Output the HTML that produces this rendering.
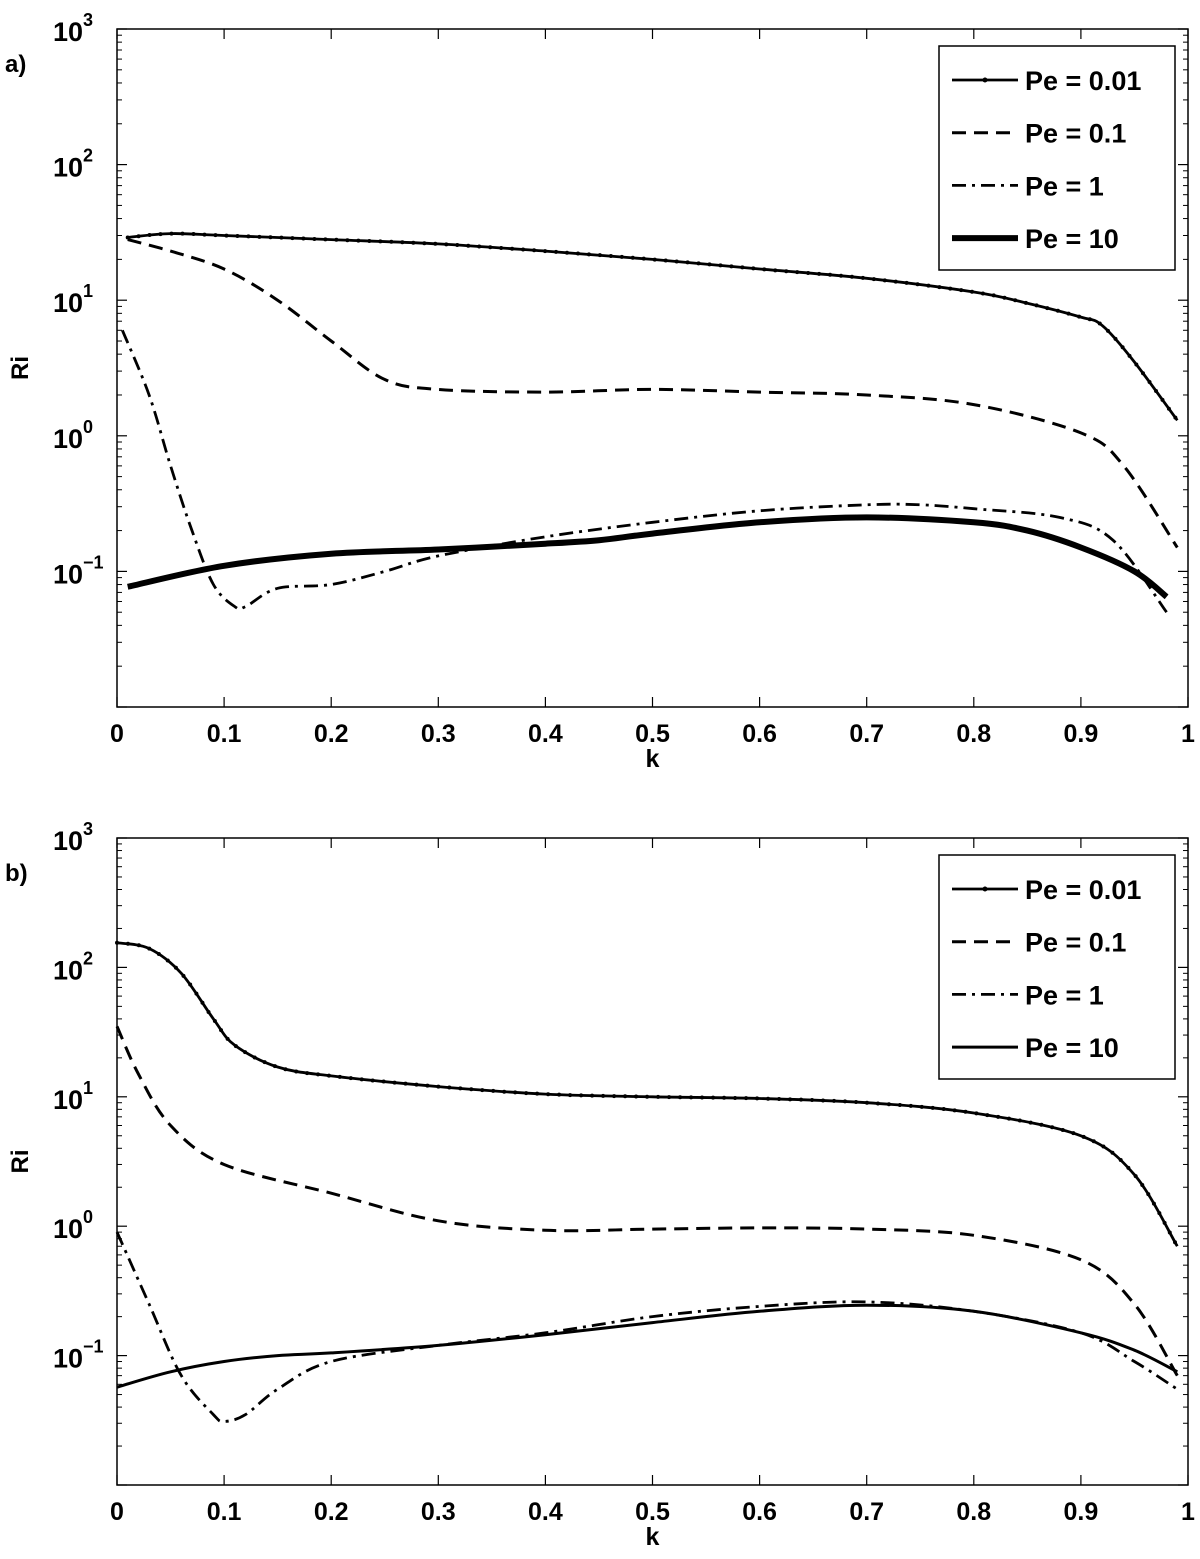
<!DOCTYPE html>
<html><head><meta charset="utf-8"><style>
body{margin:0;background:#fff}
svg{display:block;font-family:"Liberation Sans",Arial,sans-serif;font-weight:bold}
</style></head><body>
<svg id="fig" width="1200" height="1559" viewBox="0 0 1200 1559" xmlns="http://www.w3.org/2000/svg"></svg>
<script>
const ticksX=[0,0.1,0.2,0.3,0.4,0.5,0.6,0.7,0.8,0.9,1];
const tickLabelsX=["0","0.1","0.2","0.3","0.4","0.5","0.6","0.7","0.8","0.9","1"];
const decades=[3,2,1,0,-1];
const seriesNames=["Pe = 0.01","Pe = 0.1","Pe = 1","Pe = 10"];
// panel a
const aK001=[0.01,0.05,0.1,0.2,0.3,0.4,0.5,0.6,0.7,0.8,0.85,0.9,0.92,0.95,0.99];
const aV001=[29,31,30,28,26,23,20,17,14.5,11.5,9.5,7.5,6.5,3.5,1.3];
const aK01=[0.01,0.05,0.1,0.15,0.2,0.25,0.3,0.4,0.5,0.6,0.7,0.8,0.9,0.94,0.99];
const aV01=[28,23,17,10,5,2.6,2.2,2.1,2.2,2.1,2.0,1.7,1.05,0.6,0.15];
const aK1=[0.005,0.03,0.05,0.07,0.09,0.11,0.12,0.15,0.2,0.25,0.3,0.4,0.5,0.6,0.7,0.75,0.8,0.88,0.93,0.98];
const aV1=[6,2,0.6,0.2,0.08,0.055,0.055,0.075,0.08,0.1,0.13,0.18,0.23,0.28,0.31,0.31,0.29,0.25,0.17,0.05];
const aK10=[0.01,0.1,0.2,0.3,0.4,0.45,0.5,0.6,0.7,0.8,0.85,0.9,0.95,0.98];
const aV10=[0.077,0.11,0.135,0.145,0.16,0.17,0.19,0.23,0.25,0.23,0.2,0.15,0.1,0.065];
// panel b
const bK001=[0.0,0.03,0.06,0.09,0.11,0.15,0.2,0.3,0.4,0.5,0.6,0.7,0.8,0.9,0.95,0.99];
const bV001=[155,140,90,40,25,17,14.5,12,10.5,10,9.7,9,7.5,5,2.5,0.7];
const bK01=[0.0,0.02,0.05,0.1,0.2,0.3,0.4,0.5,0.6,0.7,0.8,0.9,0.95,0.99];
const bV01=[35,15,6,3,1.8,1.1,0.93,0.95,0.97,0.95,0.85,0.55,0.25,0.07];
const bK1=[0.0,0.03,0.06,0.09,0.1,0.12,0.15,0.2,0.3,0.4,0.5,0.6,0.7,0.8,0.9,0.95,0.99];
const bV1=[0.9,0.25,0.07,0.035,0.031,0.035,0.055,0.09,0.12,0.15,0.2,0.24,0.26,0.22,0.15,0.09,0.055];
const bK10=[0.0,0.05,0.1,0.15,0.2,0.3,0.4,0.5,0.6,0.7,0.8,0.9,0.95,0.99];
const bV10=[0.057,0.075,0.09,0.1,0.105,0.12,0.145,0.18,0.22,0.245,0.22,0.15,0.11,0.075];

const NS="http://www.w3.org/2000/svg";
const svg=document.getElementById('fig');
function el(tag,attrs,parent){const e=document.createElementNS(NS,tag);for(const k in attrs)e.setAttribute(k,attrs[k]);(parent||svg).appendChild(e);return e;}

function smooth(P){
  let d='M'+P[0][0].toFixed(1)+','+P[0][1].toFixed(1);
  for(let i=0;i<P.length-1;i++){
    const p0=P[Math.max(0,i-1)],p1=P[i],p2=P[i+1],p3=P[Math.min(P.length-1,i+2)];
    const c1=[p1[0]+(p2[0]-p0[0])/6,p1[1]+(p2[1]-p0[1])/6];
    const c2=[p2[0]-(p3[0]-p1[0])/6,p2[1]-(p3[1]-p1[1])/6];
    d+=' C'+c1.map(v=>v.toFixed(1)).join(',')+' '+c2.map(v=>v.toFixed(1)).join(',')+' '+p2[0].toFixed(1)+','+p2[1].toFixed(1);
  }
  return d;
}

function panel(id,top,bottom,label,data,thick10){
  const L=117,R=1188,T=top,B=bottom;
  const xs=k=>L+k*(R-L);
  const ys=v=>T+(3-Math.log10(v))*(B-T)/5;
  const g=el('g',{});
  
  
  const box=el('rect',{x:L,y:T,width:R-L,height:B-T,fill:'none',stroke:'#000','stroke-width':1.5},g);
  
  
  ticksX.forEach((t,i)=>{
    const x=xs(t);
    el('line',{x1:x,y1:B,x2:x,y2:B-10,stroke:'#000','stroke-width':1.2},g);
    el('line',{x1:x,y1:T,x2:x,y2:T+10,stroke:'#000','stroke-width':1.2},g);
    const tx=el('text',{x:x,y:B+35,'text-anchor':'middle','font-size':25},g);
    tx.textContent=tickLabelsX[i];
    
    
  });
  for(let d=-2;d<=3;d++){
    const y=ys(Math.pow(10,d));
    el('line',{x1:L,y1:y,x2:L+10,y2:y,stroke:'#000','stroke-width':1.2},g);
    el('line',{x1:R,y1:y,x2:R-10,y2:y,stroke:'#000','stroke-width':1.2},g);
    if(d<3)for(let m=2;m<10;m++){const yy=ys(m*Math.pow(10,d));
      el('line',{x1:L,y1:yy,x2:L+5,y2:yy,stroke:'#000','stroke-width':1},g);
      el('line',{x1:R,y1:yy,x2:R-5,y2:yy,stroke:'#000','stroke-width':1},g);}
  }
  decades.forEach(d=>{
    const y=ys(Math.pow(10,d));
    const t=el('text',{x:L-64,y:y+12,'font-size':27},g);
    
    
    t.textContent='10';
    const s=el('tspan',{dy:-15,'font-size':18},t);
    s.textContent=d<0?'\u2212'+Math.abs(d):String(d);
  });
  const xl=el('text',{x:(L+R)/2,y:B+60,'text-anchor':'middle','font-size':25},g);
  xl.textContent='k';
  
  
  const yl=el('text',{x:0,y:0,'text-anchor':'middle','font-size':24,transform:`translate(28,${(T+B)/2}) rotate(-90)`},g);
  yl.textContent='Ri';
  
  
  const pl=el('text',{x:5,y:T+43,'font-size':24},g);
  pl.textContent=label;
  
  
  const styles=[{w:2.8,d:''},{w:3,d:'14,8'},{w:2.8,d:'14,6,3,6'},{w:thick10?6:3,d:''}];
  data.forEach((s,i)=>{
    const P=s[0].map((k,j)=>[xs(k),ys(s[1][j])]);
    const p=el('path',{d:smooth(P),fill:'none',stroke:'#000','stroke-width':styles[i].w,'stroke-dasharray':styles[i].d,'stroke-linejoin':'round'},g);
    
    
    if(i===0){
      const len=p.getTotalLength();
      for(let t=0;t<=len;t+=11){const q=p.getPointAtLength(t);el('circle',{cx:q.x,cy:q.y,r:2,fill:'#000'},g);}
    }
  });
  const lg=el('g',{},g);
  
  
  const lt=T+17;
  el('rect',{x:939,y:lt,width:236,height:224,fill:'#fff',stroke:'#000','stroke-width':1.5},lg);
  seriesNames.forEach((n,i)=>{
    const y=lt+34+i*52.7;
    el('line',{x1:952,y1:y,x2:1018,y2:y,stroke:'#000','stroke-width':styles[i].w,'stroke-dasharray':styles[i].d},lg);
    if(i===0)el('circle',{cx:985,cy:y,r:2.5,fill:'#000'},lg);
    const t=el('text',{x:1025,y:y+10,'font-size':27},lg);
    t.textContent=n;
    
    
  });
}
panel('a',29,707,'a)',[[aK001,aV001],[aK01,aV01],[aK1,aV1],[aK10,aV10]],true);
panel('b',838,1485,'b)',[[bK001,bV001],[bK01,bV01],[bK1,bV1],[bK10,bV10]],false);
</script>
</body></html>
